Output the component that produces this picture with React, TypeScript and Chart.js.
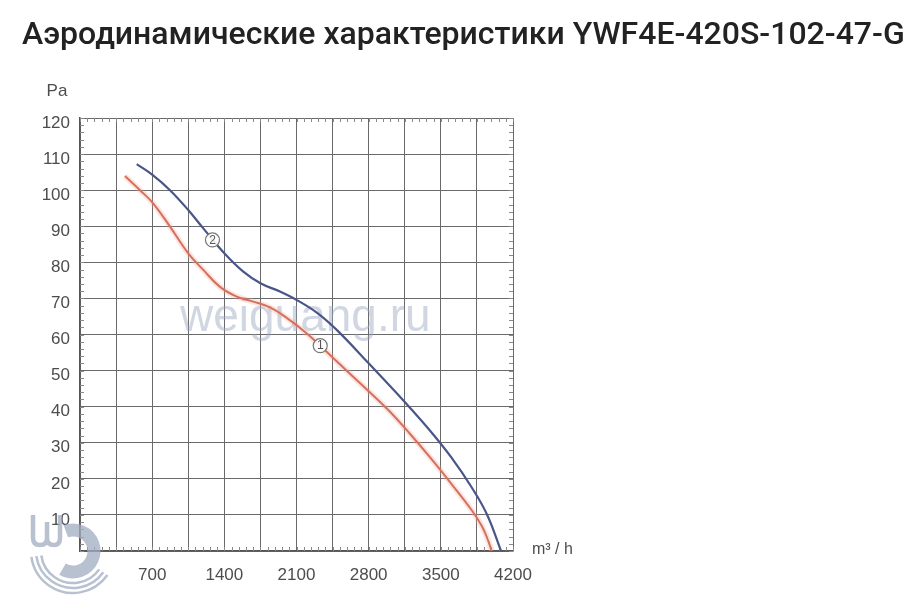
import React, { useEffect, useRef } from 'react';
import { Chart, registerables } from 'chart.js';

Chart.register(...registerables);

const TITLE = 'Аэродинамические характеристики YWF4E-420S-102-47-G';
const Y_UNIT = 'Pa';
const X_UNIT = 'm³ / h';
const WATERMARK = 'weiguang.ru';

const X_MIN = 0;
const X_MAX = 4200;
const X_STEP = 350;
const X_LABEL_STEP = 700;
const Y_MIN = 0;
const Y_MAX = 120;
const Y_STEP = 10;

// Curve 2 (blue)
const curve2Flow = [550, 700, 873, 1050, 1196, 1400, 1584, 1750, 1940, 2100, 2300, 2500, 2800, 3150, 3400, 3600, 3800, 3950, 4084];
const curve2Pressure = [107.2, 104.3, 100, 94.5, 89.4, 82.5, 77.4, 74.2, 71.9, 69.6, 66, 61, 52, 41.3, 33.2, 26, 17.6, 10, 0];

// Curve 1 (red)
const curve1Flow = [436, 582, 711, 873, 1050, 1196, 1358, 1520, 1681, 1843, 2005, 2200, 2400, 2600, 2800, 3000, 3200, 3400, 3600, 3800, 3900, 3960, 3993];
const curve1Pressure = [103.9, 100, 96.3, 89.9, 82.5, 77.9, 73.2, 70.5, 69.1, 67.5, 64.6, 60.3, 55, 49.6, 44.3, 38.8, 32.5, 25.8, 18.7, 11.3, 6.8, 2.8, 0];

const markerLabels = ['1', '2'];
const markerFlow = [2330, 1285];
const markerPressure = [56.9, 86.2];

const BLUE = '#4a5688';
const RED = '#cc5c46';
const RED_HALO = 'rgba(240,165,150,0.28)';
const GRID = '#6a6a6a';
const TICK_COLOR = '#4d4d4d';
const FONT = '"Liberation Sans", Arial, sans-serif';

const toPoints = (xs: number[], ys: number[]) => xs.map((x, i) => ({ x, y: ys[i] }));

const decorPlugin = {
  id: 'decor',
  beforeDatasetsDraw(chart: any) {
    const ctx = chart.ctx as CanvasRenderingContext2D;
    const xs = chart.scales.x;
    const ys = chart.scales.y;
    const area = chart.chartArea;
    ctx.save();
    // watermark
    ctx.font = `46px ${FONT}`;
    ctx.fillStyle = 'rgba(150,166,192,0.45)';
    ctx.textBaseline = 'alphabetic';
    ctx.textAlign = 'left';
    ctx.fillText(WATERMARK, 180, 331);
    // minor ticks
    ctx.strokeStyle = '#8a8a8a';
    ctx.lineWidth = 1;
    ctx.beginPath();
    for (let v = Y_MIN; v <= Y_MAX; v += 2) {
      const py = Math.round(ys.getPixelForValue(v)) + 0.5;
      ctx.moveTo(area.left, py);
      ctx.lineTo(area.left + 4, py);
      ctx.moveTo(area.right, py);
      ctx.lineTo(area.right - 4, py);
    }
    for (let v = X_MIN; v <= X_MAX; v += 70) {
      const px = Math.round(xs.getPixelForValue(v)) + 0.5;
      ctx.moveTo(px, area.top);
      ctx.lineTo(px, area.top + 4);
      ctx.moveTo(px, area.bottom);
      ctx.lineTo(px, area.bottom - 4);
    }
    ctx.stroke();
    ctx.restore();
  },
  afterDraw(chart: any) {
    const ctx = chart.ctx as CanvasRenderingContext2D;
    const xs = chart.scales.x;
    const ys = chart.scales.y;
    ctx.save();
    // title
    ctx.fillStyle = '#222222';
    ctx.font = `500 32px Roboto, "Noto Sans", sans-serif`;
    ctx.textAlign = 'left';
    ctx.textBaseline = 'alphabetic';
    ctx.fillText(TITLE, 22, 44);
    // unit labels
    ctx.fillStyle = TICK_COLOR;
    ctx.font = `17px ${FONT}`;
    ctx.textAlign = 'center';
    ctx.textBaseline = 'middle';
    ctx.fillText(Y_UNIT, 57, 91);
    ctx.textAlign = 'left';
    ctx.font = `16px ${FONT}`;
    ctx.fillText(X_UNIT, 532, 550);
    // curve markers
    markerLabels.forEach((lab, i) => {
      const px = xs.getPixelForValue(markerFlow[i]);
      const py = ys.getPixelForValue(markerPressure[i]);
      ctx.beginPath();
      ctx.arc(px, py, 7, 0, Math.PI * 2);
      ctx.fillStyle = 'rgba(255,255,255,0.9)';
      ctx.fill();
      ctx.lineWidth = 1.2;
      ctx.strokeStyle = '#777777';
      ctx.stroke();
      ctx.fillStyle = '#555555';
      ctx.font = `12px ${FONT}`;
      ctx.textAlign = 'center';
      ctx.textBaseline = 'middle';
      ctx.fillText(lab, px, py + 0.5);
    });
    // logo (bottom-left)
    ctx.strokeStyle = 'rgba(160,172,192,0.75)';
    ctx.lineCap = 'butt';
    ctx.lineWidth = 13;
    ctx.beginPath();
    ctx.arc(73, 551, 21, (-110 * Math.PI) / 180, (120 * Math.PI) / 180);
    ctx.stroke();
    ctx.lineWidth = 2.5;
    [32, 37, 42].forEach((r) => {
      ctx.beginPath();
      ctx.arc(73, 551, r, (35 * Math.PI) / 180, (172 * Math.PI) / 180);
      ctx.stroke();
    });
    ctx.lineWidth = 4.5;
    ctx.beginPath();
    ctx.moveTo(33, 515);
    ctx.lineTo(33, 538);
    ctx.quadraticCurveTo(33, 545, 40, 545);
    ctx.quadraticCurveTo(47, 545, 47, 538);
    ctx.lineTo(47, 522);
    ctx.moveTo(47, 538);
    ctx.quadraticCurveTo(47, 545, 54, 545);
    ctx.quadraticCurveTo(60, 545, 60, 538);
    ctx.lineTo(60, 515);
    ctx.stroke();
    ctx.restore();
  },
};

export default function App() {
  const canvasRef = useRef<HTMLCanvasElement | null>(null);

  useEffect(() => {
    if (!canvasRef.current) return;
    const chart = new Chart(canvasRef.current, {
      type: 'line',
      data: {
        datasets: [
          {
            label: 'halo1',
            data: toPoints(curve1Flow, curve1Pressure),
            borderColor: RED_HALO,
            borderWidth: 6,
            pointRadius: 0,
            tension: 0.4,
            fill: false,
          },
          {
            label: '1',
            data: toPoints(curve1Flow, curve1Pressure),
            borderColor: RED,
            borderWidth: 2,
            pointRadius: 0,
            tension: 0.4,
            fill: false,
          },
          {
            label: '2',
            data: toPoints(curve2Flow, curve2Pressure),
            borderColor: BLUE,
            borderWidth: 2.2,
            pointRadius: 0,
            tension: 0.4,
            fill: false,
          },
        ],
      },
      options: {
        animation: false,
        responsive: false,
        devicePixelRatio: 1,
        layout: { padding: { left: 0, right: 406, top: 118, bottom: 0 } },
        plugins: {
          legend: { display: false },
          title: { display: false },
          tooltip: { enabled: false },
        },
        scales: {
          x: {
            type: 'linear',
            min: X_MIN,
            max: X_MAX,
            afterFit: (s: any) => {
              s.height = 56;
            },
            grid: { color: GRID, lineWidth: 1, drawTicks: false },
            border: { display: true, color: '#555555', width: 1.5 },
            ticks: {
              stepSize: X_STEP,
              autoSkip: false,
              maxRotation: 0,
              padding: 14,
              color: TICK_COLOR,
              font: { family: FONT, size: 17 },
              callback: (v: any) => (v !== 0 && v % X_LABEL_STEP === 0 ? String(v) : ''),
            },
          },
          y: {
            type: 'linear',
            min: Y_MIN,
            max: Y_MAX,
            afterFit: (s: any) => {
              s.width = 80;
            },
            grid: { color: GRID, lineWidth: 1, drawTicks: false },
            border: { display: true, color: '#555555', width: 1.5 },
            ticks: {
              stepSize: Y_STEP,
              autoSkip: false,
              padding: 10,
              labelOffset: 5,
              color: TICK_COLOR,
              font: { family: FONT, size: 17 },
              callback: (v: any) => (v === 0 ? '' : String(v)),
            },
          },
        },
      },
      plugins: [decorPlugin],
    });
    return () => chart.destroy();
  }, []);

  return (
    <div style={{ position: 'absolute', left: 0, top: 0, width: 919, height: 607, background: '#ffffff' }}>
      <canvas ref={canvasRef} width={919} height={607} style={{ display: 'block' }} />
    </div>
  );
}
